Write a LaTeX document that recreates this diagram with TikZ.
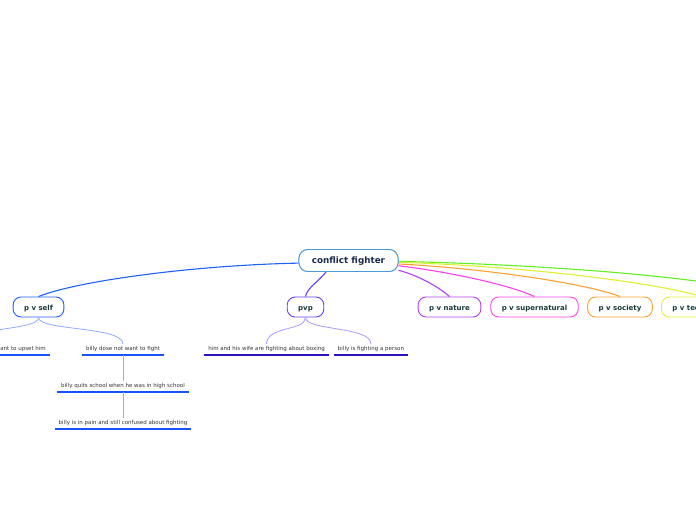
\documentclass[tikz,border=0pt]{standalone}
\usepackage{fontspec}
\setmainfont{DejaVu Sans}
\definecolor{cblue}{HTML}{4A9AD8}
\definecolor{titletext}{HTML}{1A2A50}
\definecolor{topictext}{HTML}{1A3A3A}
\definecolor{leaftext}{HTML}{333333}
\definecolor{selfc}{HTML}{2060FF}
\definecolor{pvpc}{HTML}{5A44FF}
\definecolor{natc}{HTML}{B040F0}
\definecolor{supc}{HTML}{FF40E8}
\definecolor{socc}{HTML}{FFA030}
\definecolor{tecc}{HTML}{E0F030}
\definecolor{grnc}{HTML}{60F020}
\definecolor{selfsubc}{HTML}{90AAFF}
\definecolor{pvpsubc}{HTML}{A898FF}
\definecolor{selfu}{HTML}{1A50FF}
\definecolor{pvpu}{HTML}{3010C0}
\begin{document}
\begin{tikzpicture}[x=1pt,y=1pt,
  central/.style={draw=cblue, line width=0.9pt, rounded corners=9pt, fill=white,
    font=\bfseries\fontsize{8.8}{10}\selectfont, text=titletext,
    inner xsep=13pt, inner ysep=0pt, minimum height=22pt,
    text height=6.7pt, text depth=0.3pt},
  topic/.style={draw=#1, line width=0.9pt, rounded corners=8pt, fill=white,
    font=\bfseries\fontsize{7}{8}\selectfont, text=topictext,
    inner xsep=11pt, inner ysep=0pt, minimum height=20pt,
    text height=6.8pt, text depth=0.2pt},
  leaf/.style={font=\fontsize{5.5}{6}\selectfont, text=leaftext,
    inner xsep=4pt, inner ysep=2.5pt, text height=4pt, text depth=1.5pt, anchor=south},
  ul/.style={draw=#1, line width=1.5pt},
  mainline/.style={draw=#1, line width=1.1pt},
  subline/.style={draw=#1, line width=0.8pt}]
\useasboundingbox (0,0) rectangle (696,-520);
\clip (0,0) rectangle (696,-520);

\node[central] (c) at (348.5,-260.5) {conflict fighter};
\node[topic=selfc] (self) at (38.5,-307) {p v self};
\node[topic=pvpc] (pvp) at (305.5,-307) {pvp};
\node[topic=natc] (nat) at (449.5,-307) {p v nature};
\node[topic=supc] (sup) at (534.5,-307) {p v supernatural};
\node[topic=socc] (soc) at (620,-307) {p v society};
\node[topic=tecc, anchor=west] (tec) at (661,-307) {p v technology};
\coordinate (grn) at (800,-300);

\draw[mainline=grnc] (c.-1) .. controls (560,-265) and (720,-278) .. (grn);
\draw[mainline=tecc] (c.-2.5) .. controls (540,-267) and (660,-284) .. (tec.north);
\draw[mainline=socc] (c.-4) .. controls (480,-268) and (585,-283) .. (soc.north);
\draw[mainline=supc] (c.-6) .. controls (450,-272) and (510,-285) .. (sup.north);
\draw[mainline=natc] (c.-11) .. controls (420,-276) and (440,-288) .. (nat.north);
\draw[mainline=pvpc] (c.207) .. controls (318,-282) and (307,-288) .. (pvp.north);
\draw[mainline=selfc] (c.183) .. controls (200,-265) and (80,-280) .. (self.north);

% redraw central node on top of lines
\node[central] at (c) {conflict fighter};

% leaves of p v self
\node[leaf, anchor=south east] (s1) at (50,-355) {ant to upset him};
\coordinate (s1top) at (-32,-344.5);
\node[leaf] (s2) at (123,-355) {billy dose not want to fight};
\node[leaf] (s3) at (123,-392) {billy quits school when he was in high school};
\node[leaf] (s4) at (123,-429) {billy is in pain and still confused about fighting};

\draw[ul=selfu] (s1.south east) -- ++(-80,0);
\draw[ul=selfu] (s2.south west) -- (s2.south east);
\draw[ul=selfu] (s3.south west) -- (s3.south east);
\draw[ul=selfu] (s4.south west) -- (s4.south east);

\draw[subline=selfsubc] (self.south) .. controls (38.5,-331) and (-32,-326) .. (s1top);
\draw[subline=selfsubc] (self.south) .. controls (38.5,-331) and (123,-326) .. (s2.north);
\draw[subline=selfsubc] (s2.south) -- (s3.north);
\draw[subline=selfsubc] (s3.south) -- (s4.north);

% leaves of pvp
\node[leaf] (p1) at (266.5,-355) {him and his wife are fighting about boxing};
\node[leaf] (p2) at (371,-355) {billy is fighting a person};
\draw[ul=pvpu] (p1.south west) -- (p1.south east);
\draw[ul=pvpu] (p2.south west) -- (p2.south east);
\draw[subline=pvpsubc] (pvp.south) .. controls (305.5,-331) and (266.5,-326) .. (p1.north);
\draw[subline=pvpsubc] (pvp.south) .. controls (305.5,-331) and (371,-326) .. (p2.north);
\end{tikzpicture}
\end{document}
